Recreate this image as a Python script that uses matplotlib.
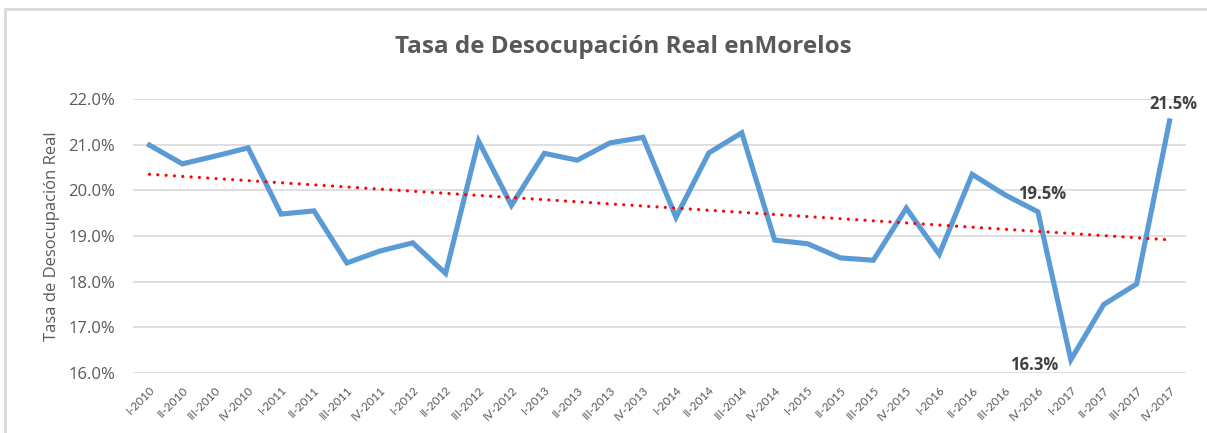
import numpy as np
import matplotlib
matplotlib.use("Agg")
import matplotlib.pyplot as plt
from matplotlib.patches import Rectangle
from matplotlib.ticker import FuncFormatter

quarters = [
    "I-2010", "II-2010", "III-2010", "IV-2010",
    "I-2011", "II-2011", "III-2011", "IV-2011",
    "I-2012", "II-2012", "III-2012", "IV-2012",
    "I-2013", "II-2013", "III-2013", "IV-2013",
    "I-2014", "II-2014", "III-2014", "IV-2014",
    "I-2015", "II-2015", "III-2015", "IV-2015",
    "I-2016", "II-2016", "III-2016", "IV-2016",
    "I-2017", "II-2017", "III-2017", "IV-2017",
]
tasa = [
    20.99, 20.58, 20.75, 20.93,
    19.48, 19.55, 18.41, 18.67,
    18.85, 18.18, 21.08, 19.67,
    20.81, 20.66, 21.04, 21.16,
    19.41, 20.82, 21.26, 18.91,
    18.83, 18.52, 18.47, 19.61,
    18.60, 20.35, 19.90, 19.53,
    16.29, 17.50, 17.95, 21.52,
]
# (index, text, placement) for the labelled points
etiquetas = [(27, "19.5%", "above"), (28, "16.3%", "left"), (31, "21.5%", "above")]

GRAY = "#595959"
fig = plt.figure(figsize=(12.07, 4.33), dpi=100)
plt.rcParams["font.family"] = ["Open Sans", "DejaVu Sans"]

# chart frame
fig.patches.append(Rectangle((5 / 1207, -0.1), 1.2, 1.1 - 9.5 / 433,
                             transform=fig.transFigure, fill=False,
                             edgecolor="#d9d9d9", linewidth=2.0))

ax = fig.add_axes([133 / 1207, 1 - 373 / 433, (1186 - 133) / 1207, (373 - 99) / 433])
x = np.arange(len(tasa))
y = np.array(tasa)

ax.plot(x, y, color="#5B9BD5", linewidth=3.7, solid_joinstyle="miter", zorder=3)

# linear trend
coef = np.polyfit(x, y, 1)
ax.plot(x, np.polyval(coef, x), color="#FF0000", linewidth=2.3,
        linestyle=(0, (0.01, 2.6)), dash_capstyle="round", zorder=4)

for i, txt, pos in etiquetas:
    if pos == "above":
        off, ha, va = (3, 6), "center", "bottom"
    else:
        off, ha, va = (-9, -4), "right", "center"
    ax.annotate(txt, (x[i], y[i]), xytext=off, textcoords="offset points",
                ha=ha, va=va, fontsize=12, fontweight="bold", color="#404040")

ax.set_xlim(-0.5, len(tasa) - 0.5)
ax.set_ylim(16, 22)
ax.set_yticks(np.arange(16, 22.01, 1))
ax.yaxis.set_major_formatter(FuncFormatter(lambda v, _: f"{v:.1f}%"))
ax.set_xticks(x)
ax.set_xticklabels(quarters, rotation=45, ha="right", va="top",
                   rotation_mode="anchor", fontsize=8.5, color=GRAY,
                   family=["Lato", "DejaVu Sans"])
ax.tick_params(axis="x", length=0, pad=8)
ax.tick_params(axis="y", length=0, pad=13, labelsize=12, labelcolor=GRAY)
ax.grid(axis="y", color="#d9d9d9", linewidth=1.2)
ax.set_axisbelow(True)
for s in ax.spines.values():
    s.set_visible(False)

ax.set_ylabel("Tasa de Desocupación Real", fontsize=12, color=GRAY, labelpad=6)
fig.text(623 / 1207, 1 - 47 / 433, "Tasa de Desocupación Real enMorelos",
         ha="center", va="center", fontsize=17.5, fontweight="bold", color=GRAY)

fig.savefig("out.png", dpi=100)
